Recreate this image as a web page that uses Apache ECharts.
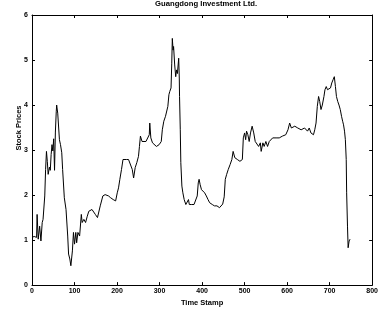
<!DOCTYPE html>
<html>
<head>
<meta charset="utf-8">
<script src="https://cdn.jsdelivr.net/npm/echarts@6/dist/echarts.min.js"></script>
<style>html,body{margin:0;padding:0;background:#fff;}#c{width:381px;height:312px;}</style>
</head>
<body>
<div id="c"></div>
<script>
var chartTitle = 'Guangdong Investment Ltd.';
var xName = 'Time Stamp';
var yName = 'Stock Prices';
var xTicks = [0, 100, 200, 300, 400, 500, 600, 700, 800];
var yTicks = [0, 1, 2, 3, 4, 5, 6];

var timeStamps = [0,5,10.8,12,14.6,18,21,24,26,30,32,34,36,38,41,43,45,47,49,51,53,55,57,58,60.5,64.5,67,70,72,76,80,84,86,89,91.4,93.7,95,97.5,100,103,105,108,112,116,118,122,126,130,133.6,137.5,141,145,149,154,160.5,166.6,172,180,185,191,196.7,200.5,203.5,206.6,210.5,214,218,222,227,231,235.8,239,242.7,246.5,250.4,252.7,255,258.8,262.7,268,272,275.8,277,279.5,283.4,287,292.6,299,304,306.5,310,314,316,319.5,322,324,327,328.7,330,331.8,333,335.6,338,340,342,345,346.4,347,348.7,350,352.5,354.8,357.9,361.8,366,368,370,375.6,381,385.6,388.6,391,393,395.5,398.6,402,406,410,414,417.8,424,429,435,441,445.6,448.5,452,454.6,457.8,461.6,466,470,473,477,483,489,494.7,497,500,502.5,504.6,507.7,510.8,513.9,517.7,521.5,525,529,533,537,539,543,546,550,554,558,562,566,570,574,577.6,581.5,585,589,593,596.8,602,606,610,614,618,621.4,625,629,633,637,641,645,648,652,656,660,662,665,668,671,674,676.6,679.7,682.8,686.6,689,692,695,698,702,705,708,711,713.6,716,719,722,725,728,730.6,732.7,735,737,739,740,742,743.5,745.8,748];
var prices = [1.06,1.08,1.06,1.57,1.02,1.31,0.98,1.39,1.46,1.98,2.57,2.97,2.75,2.46,2.62,2.55,2.9,3.12,2.98,3.25,2.55,3.4,3.85,4.0,3.82,3.23,3.12,2.94,2.57,1.94,1.68,1.09,0.69,0.58,0.43,0.39,0.76,1.17,0.91,1.17,0.94,1.17,1.09,1.57,1.39,1.46,1.39,1.53,1.64,1.61,1.68,1.64,1.57,1.50,1.76,1.98,2.01,1.98,1.94,1.90,1.87,2.05,2.16,2.35,2.57,2.79,2.83,2.79,2.79,2.75,2.57,2.38,2.61,2.72,2.86,3.08,3.31,3.19,3.19,3.19,3.23,3.34,3.60,3.27,3.16,3.12,3.08,3.12,3.19,3.45,3.64,3.75,3.72,3.97,4.23,4.30,4.38,4.93,5.48,5.22,5.30,4.89,4.63,4.78,4.70,5.04,4.60,4.19,3.45,2.72,2.20,2.05,1.90,1.79,1.83,1.90,1.79,1.79,1.79,1.76,1.98,2.27,2.35,2.23,2.12,2.16,2.05,1.98,1.90,1.83,1.79,1.76,1.76,1.72,1.76,1.80,1.96,2.35,2.46,2.57,2.68,2.79,2.97,2.83,2.79,2.75,2.79,3.27,3.38,3.23,3.42,3.34,3.19,3.38,3.53,3.38,3.19,3.23,3.08,3.16,2.97,3.16,3.08,3.19,3.08,3.19,3.16,3.27,3.23,3.27,3.31,3.27,3.23,3.31,3.27,3.34,3.45,3.60,3.49,3.45,3.53,3.49,3.49,3.47,3.45,3.45,3.49,3.45,3.42,3.49,3.38,3.42,3.34,3.45,3.60,3.97,4.19,4.08,3.90,4.00,4.19,4.34,4.41,4.34,4.30,4.38,4.49,4.56,4.63,4.41,4.19,4.08,4.00,3.90,3.75,3.64,3.56,3.42,3.23,2.79,2.05,1.31,0.83,0.98,1.02];

var seriesData = timeStamps.map(function (t, i) { return [t, prices[i]]; });
var FONT = 'Liberation Sans, Arial, Helvetica, sans-serif';
var axisLine = { show: true, onZero: false, lineStyle: { color: '#000', width: 1 } };
var tickStyle = { show: true, inside: true, length: 3, lineStyle: { color: '#000', width: 1 } };
var labelStyle = { fontFamily: FONT, fontSize: 7, fontWeight: 'bold', color: '#000' };

var chart = echarts.init(document.getElementById('c'), null, { renderer: 'canvas' });
chart.setOption({
  animation: false,
  backgroundColor: '#fff',
  title: {
    text: chartTitle,
    left: 155, top: 0, padding: 0,
    textStyle: { fontFamily: FONT, fontSize: 7.7, fontWeight: 'bold', color: '#000' }
  },
  grid: { left: 32, right: 2.5, top: 15, bottom: 25, containLabel: false },
  xAxis: [{
    type: 'value', min: xTicks[0], max: xTicks[xTicks.length - 1], interval: 100,
    position: 'bottom',
    name: xName, nameLocation: 'middle', nameGap: 10,
    nameTextStyle: { fontFamily: FONT, fontSize: 7.5, fontWeight: 'bold', color: '#000' },
    axisLine: axisLine, axisTick: tickStyle,
    axisLabel: Object.assign({ margin: 2, showMaxLabel: true, showMinLabel: true }, labelStyle),
    splitLine: { show: false }
  }, {
    type: 'value', min: xTicks[0], max: xTicks[xTicks.length - 1], interval: 100,
    position: 'top',
    axisLine: axisLine, axisTick: tickStyle,
    axisLabel: { show: false }, splitLine: { show: false }
  }],
  yAxis: [{
    type: 'value', min: yTicks[0], max: yTicks[yTicks.length - 1], interval: 1,
    position: 'left',
    axisLine: axisLine, axisTick: tickStyle,
    axisLabel: Object.assign({ margin: 4 }, labelStyle),
    splitLine: { show: false }
  }, {
    type: 'value', min: yTicks[0], max: yTicks[yTicks.length - 1], interval: 1,
    position: 'right',
    axisLine: axisLine, axisTick: tickStyle,
    axisLabel: { show: false }, splitLine: { show: false }
  }],
  graphic: [{
    type: 'text',
    x: 19, y: 128, rotation: Math.PI / 2,
    style: { text: yName, fontFamily: FONT, fontSize: 7.5, fontWeight: 'bold', fill: '#000', align: 'center', verticalAlign: 'middle' }
  }],
  series: [{
    type: 'line',
    xAxisIndex: 0, yAxisIndex: 0,
    data: seriesData,
    showSymbol: false, symbol: 'none',
    lineStyle: { color: '#000', width: 1 },
    silent: true
  }]
});
</script>
</body>
</html>
